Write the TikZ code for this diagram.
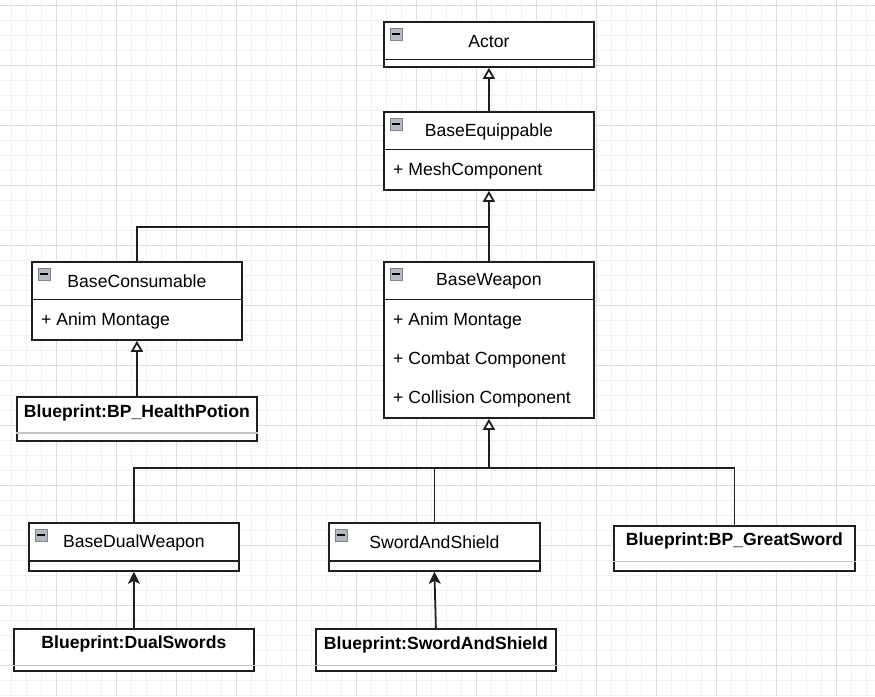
\documentclass[tikz,border=0pt]{standalone}
\usepackage{fontspec}
\setmainfont{Liberation Sans}
\usetikzlibrary{arrows.meta,calc}

\definecolor{linecol}{HTML}{1E1E1E}
\definecolor{gridlight}{HTML}{F1F1F1}
\definecolor{griddark}{HTML}{DCDCDC}
\definecolor{iconfill}{HTML}{B4B9C3}
\definecolor{iconline}{HTML}{7E838C}
\definecolor{sepgray}{HTML}{C4C4C4}

\tikzset{
  gridminor/.style={gridlight, line width=1pt},
  gridmajor/.style={griddark, line width=1pt},
  classbox/.style={draw=linecol, line width=1.8pt, fill=white, anchor=north west,
    inner sep=0pt, minimum width=210pt},
  bpbox/.style={draw=linecol, line width=1.8pt, fill=white, anchor=north west,
    inner sep=0pt, minimum width=240pt},
  title/.style={inner sep=0pt, font=\fontsize{17.6}{21}\selectfont},
  bptitle/.style={inner sep=0pt, font=\fontsize{17.6}{21}\selectfont\bfseries},
  attr/.style={inner sep=0pt, anchor=west, font=\fontsize{17.6}{21}\selectfont},
  divider/.style={draw=linecol, line width=1.8pt},
  bpdivider/.style={draw=sepgray, line width=1.8pt},
  icon/.style={draw=iconline, fill=iconfill, line width=0.8pt, anchor=north west,
    inner sep=0pt, minimum size=12.5pt,
    path picture={\draw[black, line width=1.6pt]
      ([xshift=2.3pt]path picture bounding box.west) --
      ([xshift=-2.3pt]path picture bounding box.east);}},
  link/.style={draw=linecol, line width=1.8pt},
  extends/.style={link, -{Triangle[open, length=11pt, width=12pt, fill=white]}},
  realizes/.style={link, -{Stealth[length=12pt, width=12pt, inset=3pt]}}
}

\begin{document}
\begin{tikzpicture}[x=1pt,y=-1pt]
\useasboundingbox (0,0) rectangle (875,696);
\fill[white] (0,0) rectangle (875,696);

% background grid
\foreach \gx in {11,26,...,866} \draw[gridminor] (\gx,0) -- (\gx,696);
\foreach \gy in {5,20,...,695} \draw[gridminor] (0,\gy) -- (875,\gy);
\foreach \gx in {56,116,...,836} \draw[gridmajor] (\gx,0) -- (\gx,696);
\foreach \gy in {5,65,...,665} \draw[gridmajor] (0,\gy) -- (875,\gy);

% Actor
\node[classbox, minimum height=45pt] (actor) at (383,21) {};
\node[title] (actorTitle) at ([yshift=-20.5pt]actor.north) {Actor};
\node[icon] (actorIcon) at ([shift={(6.5pt,-6.5pt)}]actor.north west) {};
\draw[divider] ([yshift=-38.5pt]actor.north west) -- ([yshift=-38.5pt]actor.north east);

% BaseEquippable
\node[classbox, minimum height=78pt] (equip) at (383,111) {};
\node[title] (equipTitle) at ([yshift=-20.5pt]equip.north) {BaseEquippable};
\node[icon] (equipIcon) at ([shift={(6.5pt,-6.5pt)}]equip.north west) {};
\draw[divider] ([yshift=-38.5pt]equip.north west) -- ([yshift=-38.5pt]equip.north east);
\node[attr] (equipMesh) at ([shift={(10pt,-60pt)}]equip.north west) {+ MeshComponent};

% BaseConsumable
\node[classbox, minimum height=78pt] (consum) at (31,261) {};
\node[title] (consumTitle) at ([yshift=-20.5pt]consum.north) {BaseConsumable};
\node[icon] (consumIcon) at ([shift={(6.5pt,-6.5pt)}]consum.north west) {};
\draw[divider] ([yshift=-38.5pt]consum.north west) -- ([yshift=-38.5pt]consum.north east);
\node[attr] (consumAnim) at ([shift={(10pt,-60pt)}]consum.north west) {+ Anim Montage};

% BaseWeapon
\node[classbox, minimum height=156pt] (weapon) at (383,261) {};
\node[title] (weaponTitle) at ([yshift=-20.5pt]weapon.north) {BaseWeapon};
\node[icon] (weaponIcon) at ([shift={(6.5pt,-6.5pt)}]weapon.north west) {};
\draw[divider] ([yshift=-38.5pt]weapon.north west) -- ([yshift=-38.5pt]weapon.north east);
\node[attr] (weaponAnim) at ([shift={(10pt,-60pt)}]weapon.north west) {+ Anim Montage};
\node[attr] (weaponCombat) at ([shift={(10pt,-99pt)}]weapon.north west) {+ Combat Component};
\node[attr] (weaponColl) at ([shift={(10pt,-138pt)}]weapon.north west) {+ Collision Component};

% Blueprint:BP_HealthPotion
\node[bpbox, minimum height=44pt] (potion) at (16,396) {};
\node[bptitle] (potionTitle) at ([yshift=-16.5pt]potion.north) {Blueprint:BP\_HealthPotion};
\draw[bpdivider] ([yshift=-37pt]potion.north west) -- ([yshift=-37pt]potion.north east);

% BaseDualWeapon
\node[classbox, minimum height=48pt] (dual) at (28,522) {};
\node[title] (dualTitle) at ([yshift=-20.5pt]dual.north) {BaseDualWeapon};
\node[icon] (dualIcon) at ([shift={(6.5pt,-6.5pt)}]dual.north west) {};
\draw[divider] ([yshift=-39pt]dual.north west) -- ([yshift=-39pt]dual.north east);

% SwordAndShield
\node[classbox, minimum height=48pt, minimum width=211pt] (sword) at (328,522) {};
\node[title] (swordTitle) at ([yshift=-20.5pt]sword.north) {SwordAndShield};
\node[icon] (swordIcon) at ([shift={(6.5pt,-6.5pt)}]sword.north west) {};
\draw[divider] ([yshift=-39pt]sword.north west) -- ([yshift=-39pt]sword.north east);

% Blueprint:BP_GreatSword
\node[bpbox, minimum height=45pt, minimum width=241pt] (great) at (613,525) {};
\node[bptitle] (greatTitle) at ([yshift=-16pt]great.north) {Blueprint:BP\_GreatSword};
\draw[bpdivider] ([yshift=-36.5pt]great.north west) -- ([yshift=-36.5pt]great.north east);

% Blueprint:DualSwords
\node[bpbox, minimum height=42pt] (bpdual) at (13,628) {};
\node[bptitle] (bpdualTitle) at ([yshift=-16pt]bpdual.north) {Blueprint:DualSwords};
\draw[bpdivider] ([yshift=-37.5pt]bpdual.north west) -- ([yshift=-37.5pt]bpdual.north east);

% Blueprint:SwordAndShield
\node[bpbox, minimum height=42pt] (bpsword) at (315,628) {};
\node[bptitle] (bpswordTitle) at ([yshift=-16.5pt]bpsword.north) {Blueprint:SwordAndShield};
\draw[bpdivider] ([yshift=-37.5pt]bpsword.north west) -- ([yshift=-37.5pt]bpsword.north east);

% inheritance
\draw[extends] (equip.north) -- (actor.south);

\coordinate (upperJoin) at ($(equip.south)+(0pt,-36pt)$);
\draw[link] (consum.north) |- (upperJoin);
\draw[link] (weapon.north) -- (upperJoin);
\draw[extends] (upperJoin) -- (equip.south);

\draw[extends] (potion.north) -- (consum.south);

\coordinate (lowerJoin) at ($(weapon.south)+(0pt,-49pt)$);
\draw[link] (dual.north) |- (lowerJoin);
\draw[link] (great.north) |- (lowerJoin);
\draw[link] (sword.north) -- (sword.north |- lowerJoin);
\draw[extends] (lowerJoin) -- (weapon.south);

\draw[realizes] (bpdual.north) -- (dual.south);
\draw[realizes] (bpsword.north) -- (sword.south);
\end{tikzpicture}
\end{document}
